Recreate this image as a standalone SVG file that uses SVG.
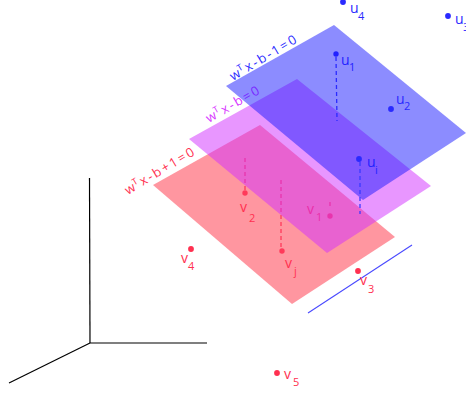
<svg xmlns="http://www.w3.org/2000/svg" width="466" height="394" viewBox="0 0 466 394">
<style>
text{font-family:"Open Sans","DejaVu Sans",sans-serif;}
.lbl{font-size:14px;}
.sub{font-size:11px;}
.pl{font-size:13px;letter-spacing:2.1px;}
.blue{fill:#2a2aff;}
.red{fill:#ff3050;}
.mag{fill:#d838ff;}
.dashb{stroke:#3a3aff;stroke-width:1.3;stroke-dasharray:4 3;fill:none;}
.dashr{stroke:#ff3a5a;stroke-width:1.3;stroke-dasharray:4 3;fill:none;}
.axis{stroke:#000;stroke-width:1.2;fill:none;}
</style>
<rect width="466" height="394" fill="#fff"/>
<g id="axes">
<line class="axis" x1="89.5" y1="178" x2="90" y2="343"/>
<line class="axis" x1="90" y1="343" x2="207" y2="343"/>
<line class="axis" x1="90" y1="343" x2="9" y2="383"/>
</g>
<g id="plane-red">
<polygon points="153,185 260,125 395,237 292,304" fill="#ff2d41" fill-opacity="0.5"/>
<text class="pl red" transform="translate(128,195) rotate(-31)">w<tspan dx="-2" dy="-5" font-size="9">T</tspan><tspan dy="5">x-b+1=0</tspan></text>
</g>
<g id="points-red-under">
<line class="dashr" x1="245" y1="158" x2="245" y2="191"/>
<circle cx="245" cy="193" r="2.7" fill="#ff3a5a"/>
<line class="dashr" x1="281" y1="180" x2="281" y2="249"/>
<circle cx="282" cy="251" r="2.7" fill="#ff3a5a"/>
<line class="dashr" x1="330" y1="202" x2="330" y2="209"/>
<circle cx="330" cy="216" r="2.7" fill="#ff3a5a"/>
<text class="lbl red" x="307" y="214">v</text><text class="sub red" x="316" y="221">1</text>
</g>
<g id="plane-magenta">
<polygon points="189,139 297,79 431,186 327,253" fill="#d12dff" fill-opacity="0.5"/>
<text class="pl mag" transform="translate(209,123) rotate(-30)">w<tspan dx="-2" dy="-5" font-size="9">T</tspan><tspan dy="5">x-b=0</tspan></text>
</g>
<g id="points-blue-under">
<circle cx="336" cy="54" r="2.7" fill="#2a2aff"/>
<line class="dashb" x1="336" y1="57" x2="337" y2="121"/>
<text class="lbl blue" x="341" y="65">u</text><text class="sub blue" x="349" y="71">1</text>
<text class="lbl blue" x="367" y="167">u</text><text class="sub blue" x="375" y="174">i</text>
</g>
<g id="plane-blue">
<polygon points="334,25 466,133 363,200 226,86" fill="#1919ff" fill-opacity="0.5"/>
<text class="pl blue" transform="translate(233,81) rotate(-31)">w<tspan dx="-2" dy="-5" font-size="9">T</tspan><tspan dy="5">x-b-1=0</tspan></text>
</g>
<g id="connectors">
<line class="dashb" x1="360" y1="162" x2="360" y2="214"/>
<line x1="308" y1="313" x2="412" y2="245" stroke="#4a4aff" stroke-width="1.1"/>
</g>
<g id="u-points">
<circle cx="359" cy="159" r="2.9" fill="#2a2aff"/>
<circle cx="343" cy="2" r="2.9" fill="#2a2aff"/>
<text class="lbl blue" x="350" y="13">u</text><text class="sub blue" x="358" y="20">4</text>
<circle cx="448" cy="16" r="2.9" fill="#2a2aff"/>
<text class="lbl blue" x="455" y="24">u</text><text class="sub blue" x="463" y="31">3</text>
<circle cx="391" cy="109" r="2.9" fill="#2a2aff"/>
<text class="lbl blue" x="396" y="104">u</text><text class="sub blue" x="404" y="110">2</text>
</g>
<g id="v-points">
<text class="lbl red" x="240" y="212">v</text><text class="sub red" x="249" y="222">2</text>
<text class="lbl red" x="285" y="268">v</text><text class="sub red" x="294" y="275">j</text>
<circle cx="191" cy="249" r="2.9" fill="#ff3050"/>
<text class="lbl red" x="181" y="263">v</text><text class="sub red" x="188" y="270">4</text>
<circle cx="358" cy="271" r="2.9" fill="#ff3050"/>
<text class="lbl red" x="360" y="285">v</text><text class="sub red" x="368" y="293">3</text>
<circle cx="277" cy="373" r="2.9" fill="#ff3050"/>
<text class="lbl red" x="284" y="379">v</text><text class="sub red" x="293" y="386">5</text>
</g>
</svg>
